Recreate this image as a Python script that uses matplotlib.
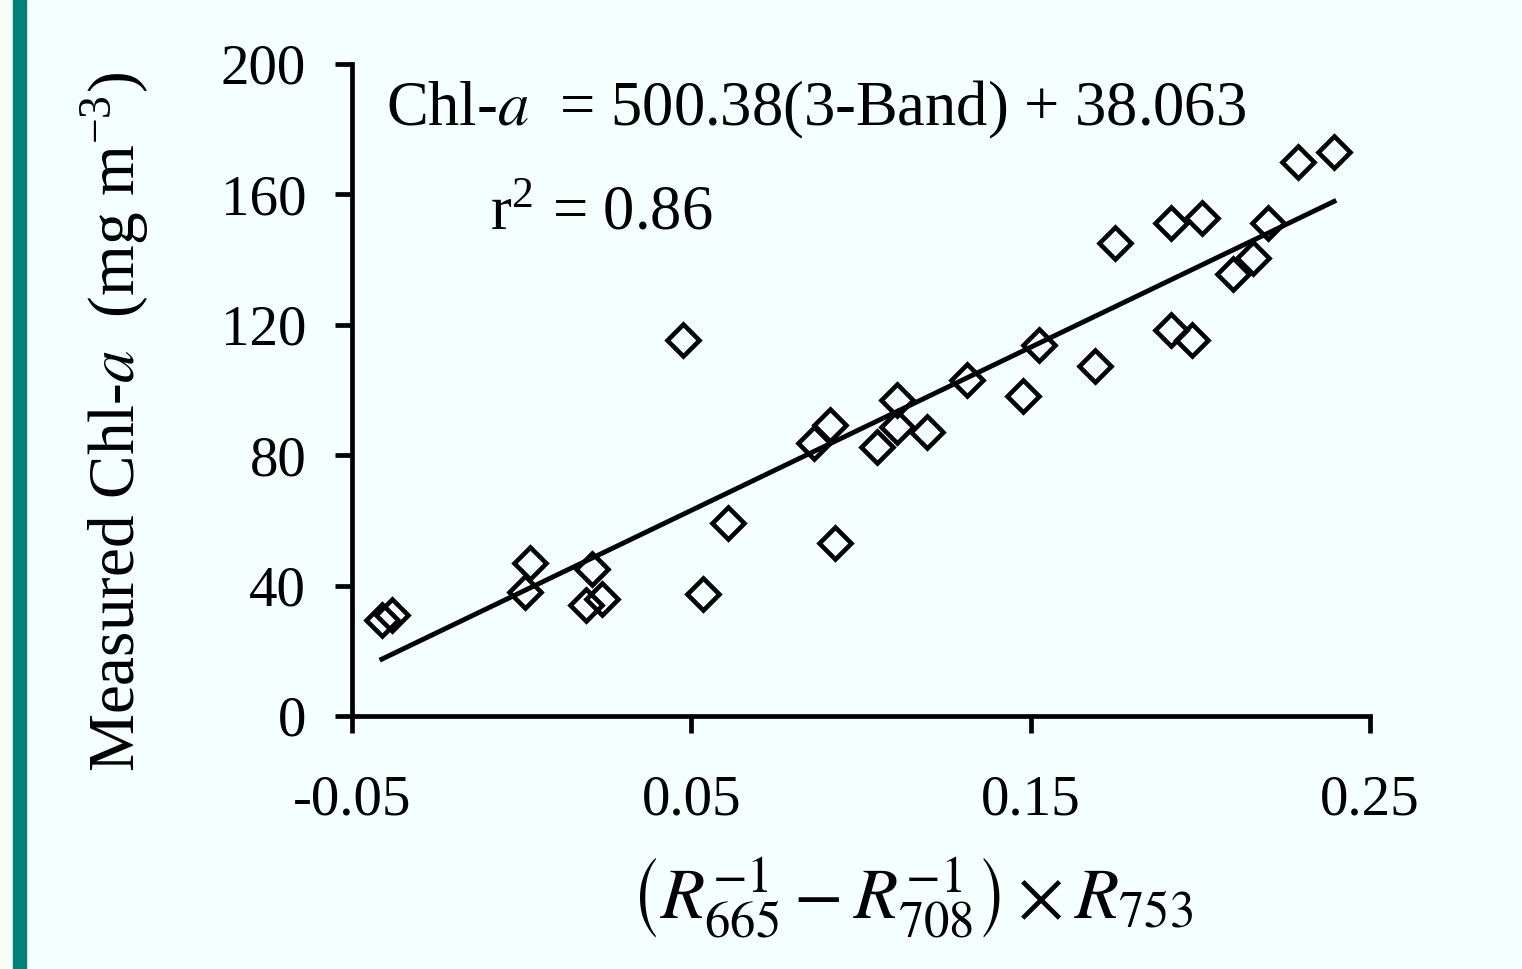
import matplotlib
matplotlib.use('Agg')
import matplotlib.pyplot as plt
from matplotlib.patches import Rectangle

# ---- data ----
band_index = [-0.0412, -0.0382, 0.0025, 0.0010, 0.0207, 0.0190, 0.0237,
              0.0476, 0.0608, 0.0534,
              0.0924, 0.0909, 0.0862, 0.1106, 0.1106, 0.1047, 0.1195, 0.1313,
              0.1478, 0.1525, 0.1690, 0.1749, 0.1914, 0.2005, 0.1914, 0.1976,
              0.2097, 0.2156, 0.2200, 0.2288, 0.2394]
chl_measured = [29.4, 31.0, 46.9, 38.0, 45.1, 34.0, 35.9,
                115.3, 59.2, 37.4,
                53.1, 89.3, 83.7, 96.9, 88.7, 82.5, 87.1, 103.1,
                98.2, 113.8, 107.4, 145.1, 151.2, 152.8, 118.4, 115.3,
                135.6, 140.5, 151.2, 169.9, 173.0]
slope = 500.38
intercept = 38.063
r_squared = 0.86
x_ticks = [-0.05, 0.05, 0.15, 0.25]
x_tick_labels = ['-0.05', '0.05', '0.15', '0.25']
y_ticks = [0, 40, 80, 120, 160, 200]

# ---- style ----
plt.rcParams['font.family'] = ['Liberation Serif', 'DejaVu Serif']
plt.rcParams['mathtext.fontset'] = 'stix'
plt.rcParams['axes.unicode_minus'] = False

W, H = 1522, 969
fig = plt.figure(figsize=(W / 100, H / 100), dpi=100)
bg = '#F4FFFE'
fig.patch.set_facecolor(bg)
fig.patches.append(Rectangle((0, 0), 13 / W, 1, transform=fig.transFigure,
                             color='#F6FEF6', zorder=0))
fig.patches.append(Rectangle((13 / W, 0), 13 / W, 1, transform=fig.transFigure,
                             color='#008079', zorder=0))

ax = fig.add_axes([352 / W, 1 - 716 / H, (1370 - 352) / W, (716 - 64) / H])
ax.set_facecolor(bg)
ax.set_xlim(-0.05, 0.25)
ax.set_ylim(0, 200)

ax.plot(band_index, chl_measured, linestyle='none', marker='D', markersize=16.5,
        markerfacecolor='none', markeredgecolor='black', markeredgewidth=3.3,
        clip_on=False, zorder=3)

x0, x1 = min(band_index), max(band_index)
ax.plot([x0, x1], [slope * x0 + intercept, slope * x1 + intercept],
        color='black', linewidth=3.5, zorder=2)

for s in ['top', 'right']:
    ax.spines[s].set_visible(False)
for s in ['left', 'bottom']:
    ax.spines[s].set_linewidth(3.4)

ax.set_xticks(x_ticks)
ax.set_xticklabels(x_tick_labels)
ax.set_yticks(y_ticks)
ax.set_yticklabels([str(v) for v in y_ticks])
ax.tick_params(axis='both', direction='out', length=12, width=3.4, labelsize=41)
ax.tick_params(axis='x', pad=30)
ax.tick_params(axis='y', pad=21)

fig.text(386 / W, 1 - 125 / H, r'Chl-$\it{a}$  = 500.38(3-Band) + 38.063',
         fontsize=45, ha='left', va='baseline')
fig.text(490 / W, 1 - 230 / H, r'r$^{\mathregular{2}}$ = 0.86',
         fontsize=45, ha='left', va='baseline')

fig.text(115 / W, 1 - 422 / H,
         r'Measured Chl-$\it{a}$  (mg m$^{\mathregular{-3}}$)',
         fontsize=47, rotation=90, ha='center', va='center')

fig.text(912 / W, 1 - 918 / H,
         r'$\left(R_{665}^{-1}-R_{708}^{-1}\right)\times R_{753}$',
         fontsize=52, ha='center', va='baseline')

fig.savefig('out.png', dpi=100, facecolor=fig.get_facecolor())
